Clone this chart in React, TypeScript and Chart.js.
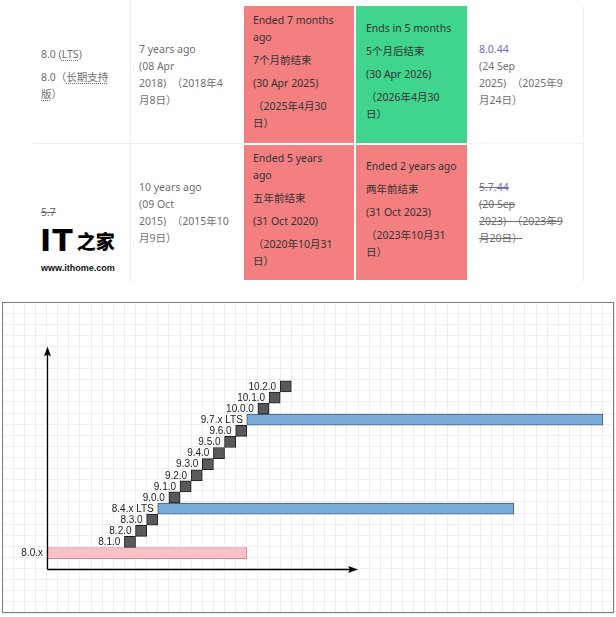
import React, { useEffect, useRef } from "react";
import { Chart, registerables } from "chart.js";

Chart.register(...registerables);

// ---------------- table data ----------------
const RELEASE_NAMES = ["8.0", "5.7"];
const RELEASED = [
  ["7 years ago", "(08 Apr", "2018)  （2018年4", "月8日）"],
  ["10 years ago", "(09 Oct", "2015)  （2015年10", "月9日）"],
];
const ACTIVE_SUPPORT = [
  [["Ended 7 months", "ago"], ["7个月前结束"], ["(30 Apr 2025)"], ["（2025年4月30", "日）"]],
  [["Ended 5 years", "ago"], ["五年前结束"], ["(31 Oct 2020)"], ["（2020年10月31", "日）"]],
];
const SECURITY_SUPPORT = [
  [["Ends in 5 months"], ["5个月后结束"], ["(30 Apr 2026)"], ["（2026年4月30", "日）"]],
  [["Ended 2 years ago"], ["两年前结束"], ["(31 Oct 2023)"], ["（2023年10月31", "日）"]],
];
const ACTIVE_STATUS = ["ended", "ended"];
const SECURITY_STATUS = ["ongoing", "ended"];
const LATEST = ["8.0.44", "5.7.44"];
const LATEST_DATE = [
  ["(24 Sep", "2025)  （2025年9", "月24日）"],
  ["(20 Sep", "2023)  （2023年9", "月20日）"],
];
const LATEST_EOL = [false, true];

// ---------------- chart data ----------------
const RELEASES = [
  "8.0.x", "8.1.0", "8.2.0", "8.3.0", "8.4.x LTS", "9.0.0", "9.1.0", "9.2.0",
  "9.3.0", "9.4.0", "9.5.0", "9.6.0", "9.7.x LTS", "10.0.0", "10.1.0", "10.2.0",
];
const STARTS = [0, 7, 8, 9, 10, 11, 12, 13, 14, 15, 16, 17, 18, 19, 20, 21];
const ENDS = [18, 8, 9, 10, 42, 12, 13, 14, 15, 16, 17, 18, 50, 20, 21, 22];
const LEVELS = [1.4, 2.4, 3.4, 4.4, 5.4, 6.4, 7.4, 8.4, 9.4, 10.4, 11.4, 12.4, 13.4, 14.4, 15.4, 16.4];
const KINDS = [
  "old", "minor", "minor", "minor", "lts", "minor", "minor", "minor",
  "minor", "minor", "minor", "minor", "lts", "minor", "minor", "minor",
];
const X_RANGE = [-4, 51];
const Y_RANGE = [-4, 24];
const AXIS_X_END = 28;
const AXIS_Y_END = 20;

const FILL: Record<string, string> = { old: "#f8c2c8", minor: "#59595d", lts: "#79acd9" };
const STROKE: Record<string, string> = { old: "#d88890", minor: "#1e1e1e", lts: "#3e5e7c" };

const RED = "#f47f80";
const GREEN = "#3fd58f";
const FONT = '"Noto Sans", "Noto Sans CJK SC", sans-serif';

function Cell(props: any) {
  const { x, y, w, h, bg, color, pl, pb, children } = props;
  return (
    <div
      style={{
        position: "absolute",
        left: x,
        top: y,
        width: w,
        height: h,
        background: bg || "transparent",
        boxSizing: "border-box",
        paddingLeft: pl,
        paddingBottom: pb || 0,
        display: "flex",
        flexDirection: "column",
        justifyContent: "center",
        gap: 6,
        color,
        fontFamily: FONT,
        fontSize: 10.5,
        lineHeight: "17px",
        whiteSpace: "pre",
      }}
    >
      {children}
    </div>
  );
}

function Paras({ paras }: { paras: string[][] }) {
  return (
    <>
      {paras.map((p, i) => (
        <div key={i}>
          {p.map((l, j) => (
            <div key={j}>{l}</div>
          ))}
        </div>
      ))}
    </>
  );
}

const overlayPlugin = {
  id: "overlay",
  afterDatasetsDraw(chart: any) {
    const ctx = chart.ctx;
    const meta = chart.getDatasetMeta(0);
    ctx.save();
    ctx.font = '10px "Liberation Sans", Arial, sans-serif';
    ctx.fillStyle = "#1c1c1c";
    ctx.textAlign = "right";
    ctx.textBaseline = "middle";
    meta.data.forEach((el: any, i: number) => {
      const p = el.getProps(["x", "y", "base"], true);
      const left = Math.min(p.x, p.base);
      ctx.fillText(RELEASES[i], left - 4, p.y + 0.5);
    });
    ctx.restore();
  },
  afterDraw(chart: any) {
    const { ctx, chartArea, scales } = chart;
    const xs = scales.x;
    const ys = scales.y;
    const x0 = Math.round(xs.getPixelForValue(0)) + 0.5;
    const y0 = Math.round(ys.getPixelForValue(0)) + 0.5;
    const xEnd = xs.getPixelForValue(AXIS_X_END);
    const yEnd = ys.getPixelForValue(AXIS_Y_END);
    ctx.save();
    ctx.strokeStyle = "#000";
    ctx.fillStyle = "#000";
    ctx.lineWidth = 1.3;
    ctx.beginPath();
    ctx.moveTo(x0, y0);
    ctx.lineTo(x0, yEnd + 7);
    ctx.moveTo(x0, y0);
    ctx.lineTo(xEnd - 7, y0);
    ctx.stroke();
    // arrow heads
    ctx.beginPath();
    ctx.moveTo(x0, yEnd);
    ctx.lineTo(x0 - 3.5, yEnd + 10);
    ctx.lineTo(x0, yEnd + 8);
    ctx.lineTo(x0 + 3.5, yEnd + 10);
    ctx.closePath();
    ctx.fill();
    ctx.beginPath();
    ctx.moveTo(xEnd, y0);
    ctx.lineTo(xEnd - 10, y0 - 3.5);
    ctx.lineTo(xEnd - 8, y0);
    ctx.lineTo(xEnd - 10, y0 + 3.5);
    ctx.closePath();
    ctx.fill();
    // frame
    ctx.strokeStyle = "#7c7c7c";
    ctx.lineWidth = 1;
    ctx.strokeRect(chartArea.left + 0.5, chartArea.top + 0.5, chartArea.width - 1, chartArea.height - 1);
    ctx.restore();
  },
};

function GanttChart() {
  const ref = useRef<HTMLCanvasElement | null>(null);
  useEffect(() => {
    if (!ref.current) return;
    const hidden = { display: false };
    const majorGrid = { color: "#dcdce0", drawTicks: false, offset: false };
    const minorGrid = { color: "#efedf3", drawTicks: false, offset: false };
    const chart = new Chart(ref.current, {
      type: "bar",
      data: {
        datasets: [
          {
            data: RELEASES.map((_, i) => ({ x: [STARTS[i], ENDS[i]], y: LEVELS[i] })) as any,
            backgroundColor: KINDS.map((k) => FILL[k]),
            borderColor: KINDS.map((k) => STROKE[k]),
            borderWidth: 1,
            borderSkipped: false,
            barPercentage: 1,
            categoryPercentage: 1,
          },
        ],
      },
      options: {
        indexAxis: "y",
        responsive: false,
        animation: false,
        devicePixelRatio: 1,
        layout: { padding: { left: 2, right: 2, top: 6, bottom: 4 } },
        plugins: { legend: { display: false }, tooltip: { enabled: false } },
        scales: {
          x: {
            type: "linear",
            min: X_RANGE[0],
            max: X_RANGE[1],
            offset: false,
            ticks: { display: false, stepSize: 4 },
            grid: majorGrid,
            border: hidden,
          },
          y: {
            type: "linear",
            min: Y_RANGE[0],
            max: Y_RANGE[1],
            offset: false,
            ticks: { display: false, stepSize: 4 },
            grid: majorGrid,
            border: hidden,
          },
          xMinor: {
            type: "linear",
            axis: "x",
            position: "bottom",
            min: X_RANGE[0],
            max: X_RANGE[1],
            offset: false,
            z: -1,
            ticks: { display: false, stepSize: 1 },
            grid: minorGrid,
            border: hidden,
          },
          yMinor: {
            type: "linear",
            axis: "y",
            position: "left",
            min: Y_RANGE[0],
            max: Y_RANGE[1],
            offset: false,
            z: -1,
            ticks: { display: false, stepSize: 1 },
            grid: minorGrid,
            border: hidden,
          },
        } as any,
      },
      plugins: [overlayPlugin],
    });
    return () => chart.destroy();
  }, []);
  return (
    <canvas
      ref={ref}
      width={616}
      height={321}
      style={{ position: "absolute", left: 0, top: 296, width: 616, height: 321 }}
    />
  );
}

const COLS = [
  { x: 33, w: 97 },
  { x: 131, w: 112 },
  { x: 244, w: 110 },
  { x: 356, w: 111 },
  { x: 468, w: 115 },
];
const ROWS = [
  { y: 6, h: 137 },
  { y: 145, h: 135 },
];

export default function App() {
  const gray = "#6f6f6f";
  const dark = "#333";
  const purple = "#7467c9";
  const dotted: React.CSSProperties = {
    textDecoration: "underline dotted",
    textUnderlineOffset: 2,
  };
  return (
    <div
      style={{
        position: "absolute",
        left: 0,
        top: 0,
        width: 616,
        height: 617,
        background: "#fff",
        overflow: "hidden",
      }}
    >
      {/* faint table borders */}
      <div style={{ position: "absolute", left: 130, top: 0, width: 1, height: 282, background: "#ececec" }} />
      <div style={{ position: "absolute", left: 583, top: 6, width: 1, height: 276, background: "#f1f1f1" }} />
      <div style={{ position: "absolute", left: 33, top: 143, width: 211, height: 1, background: "#eeeeee" }} />
      <div style={{ position: "absolute", left: 468, top: 143, width: 115, height: 1, background: "#f3f3f3" }} />

      {ROWS.map((r, ri) => (
        <React.Fragment key={ri}>
          {/* release */}
          <Cell x={COLS[0].x} y={r.y} w={COLS[0].w} h={r.h} color={gray} pl={8}>
            {ri === 0 ? (
              <>
                <div>
                  {RELEASE_NAMES[ri]} (<span style={dotted}>LTS</span>)
                </div>
                <div>
                  <div>
                    {RELEASE_NAMES[ri]}（<span style={dotted}>长期支持</span>
                  </div>
                  <div>
                    <span style={dotted}>版</span>）
                  </div>
                </div>
              </>
            ) : (
              <div style={{ textDecoration: "line-through" }}>{RELEASE_NAMES[ri]}</div>
            )}
          </Cell>
          {/* released */}
          <Cell x={COLS[1].x} y={r.y} w={COLS[1].w} h={r.h} color={gray} pl={8}>
            <Paras paras={[RELEASED[ri]]} />
          </Cell>
          {/* active support */}
          <Cell
            x={COLS[2].x}
            y={r.y}
            w={COLS[2].w}
            h={r.h}
            bg={ACTIVE_STATUS[ri] === "ended" ? RED : GREEN}
            color={dark}
            pl={9}
            pb={6}
          >
            <Paras paras={ACTIVE_SUPPORT[ri]} />
          </Cell>
          {/* security support */}
          <Cell
            x={COLS[3].x}
            y={r.y}
            w={COLS[3].w}
            h={r.h}
            bg={SECURITY_STATUS[ri] === "ended" ? RED : GREEN}
            color={dark}
            pl={10}
            pb={6}
          >
            <Paras paras={SECURITY_SUPPORT[ri]} />
          </Cell>
          {/* latest */}
          <Cell x={COLS[4].x} y={r.y} w={COLS[4].w} h={r.h} color={gray} pl={11}>
            <div style={{ textDecoration: LATEST_EOL[ri] ? "line-through" : "none" }}>
              <div style={{ color: purple }}>{LATEST[ri]}</div>
              {LATEST_DATE[ri].map((l, j) => (
                <div key={j}>{l}</div>
              ))}
            </div>
          </Cell>
        </React.Fragment>
      ))}

      {/* watermark */}
      <div
        style={{
          position: "absolute",
          left: 40,
          top: 224,
          display: "flex",
          alignItems: "center",
          gap: 3,
          color: "#000",
        }}
      >
        <span
          style={{
            fontFamily: '"DejaVu Sans", sans-serif',
            fontWeight: 900,
            fontSize: 30,
            lineHeight: "34px",
            letterSpacing: 1,
          }}
        >
          IT
        </span>
        <span
          style={{
            fontFamily: '"Noto Sans CJK SC", sans-serif',
            fontWeight: 900,
            fontSize: 19,
            lineHeight: "34px",
          }}
        >
          之家
        </span>
      </div>
      <div
        style={{
          position: "absolute",
          left: 41,
          top: 262,
          fontFamily: '"Liberation Sans", Arial, sans-serif',
          fontWeight: 700,
          fontSize: 9,
          lineHeight: "12px",
          color: "#111",
        }}
      >
        www.ithome.com
      </div>

      <GanttChart />
    </div>
  );
}
